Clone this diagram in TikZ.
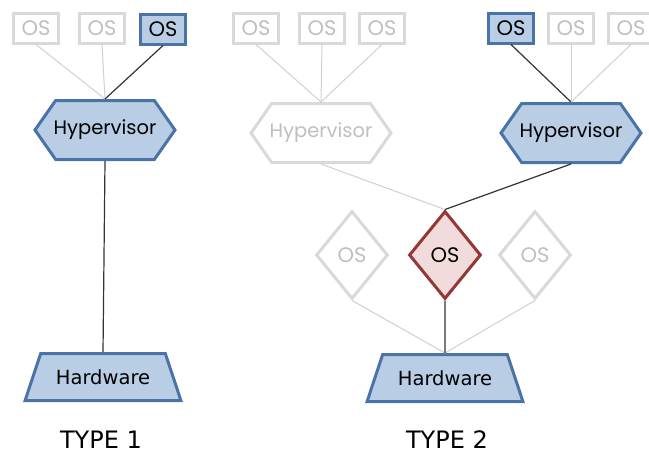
\documentclass[tikz,border=0pt]{standalone}
\usepackage{fontspec}
\setmainfont{DejaVu Sans}
\newfontfamily\geo{Poppins}
\usetikzlibrary{shapes.geometric,shapes.symbols}
\definecolor{bluefill}{HTML}{B9CDE5}
\definecolor{blueline}{HTML}{4A74A8}
\definecolor{redfill}{HTML}{F2DCDB}
\definecolor{redline}{HTML}{953735}
\definecolor{ghost}{HTML}{D9D9D9}
\definecolor{ghosttext}{HTML}{BFBFBF}
\definecolor{ghostlink}{HTML}{D0D0D0}

\tikzset{
  osbox/.style={rectangle, draw, line width=3pt, minimum width=45pt, minimum height=30pt,
    inner sep=0pt, font=\geo\fontsize{21}{21}\selectfont},
  live/.style={draw=blueline, fill=bluefill, text=black},
  dim/.style={draw=ghost, fill=white, text=ghosttext},
  hyper/.style={signal, signal to=west and east, signal pointer angle=110,
    minimum width=140pt, minimum height=59pt, inner ysep=0pt, inner xsep=-12pt,
    line width=3pt, font=\geo\fontsize{19.5}{19.5}\selectfont},
  hard/.style={trapezium, trapezium angle=52, trapezium stretches=true,
    minimum width=156pt, minimum height=47pt, inner sep=0pt, line width=3pt,
    draw=blueline, fill=bluefill, font=\fontsize{19.5}{19.5}\selectfont},
  osdia/.style={diamond, minimum width=72pt, minimum height=88pt, inner sep=0pt,
    line width=3pt, font=\geo\fontsize{21}{21}\selectfont},
  hot/.style={draw=redline, fill=redfill, text=black},
  link/.style={line width=1pt, draw=ghostlink},
  hotlink/.style={line width=1.2pt, draw=black!80},
  caption/.style={font=\fontsize{24}{24}\selectfont}
}

\begin{document}
\begin{tikzpicture}[x=1pt, y=-1pt]
  \useasboundingbox (0,0) rectangle (649,455);

  % Type 1: guests run on a hypervisor that sits on the hardware
  \node[osbox, dim]  (a1) at (36,28)  {OS};
  \node[osbox, dim]  (a2) at (102,28) {OS};
  \node[osbox, live] (a3) at (163,29) {OS};
  \node[hyper, live] (ha) at (105,130) {Hypervisor};
  \node[hard]        (wa) at (103,377) {Hardware};
  \node[caption]     (ta) at (101,440) {TYPE 1};

  \draw[link] (a1.south) -- (ha.north);
  \draw[link] (a2.south) -- (ha.north);
  \draw[hotlink] (a3.south) -- (ha.north);
  \draw[hotlink] (ha.south) -- (wa.north);

  % Type 2: hypervisors run inside a host OS
  \node[osbox, dim]  (b1) at (256,28) {OS};
  \node[osbox, dim]  (b2) at (322,28) {OS};
  \node[osbox, dim]  (b3) at (382,28) {OS};
  \node[hyper, dim]  (hb) at (321,133) {Hypervisor};

  \node[osbox, live] (c1) at (511,28) {OS};
  \node[osbox, dim]  (c2) at (571,28) {OS};
  \node[osbox, dim]  (c3) at (631,28) {OS};
  \node[hyper, live] (hc) at (571,133) {Hypervisor};

  \node[osdia, dim]  (dl) at (352,255) {OS};
  \node[osdia, hot]  (dm) at (445,255) {OS};
  \node[osdia, dim]  (dr) at (535,255) {OS};
  \node[hard]        (wb) at (445,378) {Hardware};
  \node[caption]     (tb) at (447,440) {TYPE 2};

  \draw[link] (b1.south) -- (hb.north);
  \draw[link] (b2.south) -- (hb.north);
  \draw[link] (b3.south) -- (hb.north);
  \draw[hotlink] (c1.south) -- (hc.north);
  \draw[link] (c2.south) -- (hc.north);
  \draw[link] (c3.south) -- (hc.north);
  \draw[link] (hb.south) -- (dm.north);
  \draw[hotlink] (hc.south) -- (dm.north);
  \draw[link] (dl.south) -- (wb.north);
  \draw[link] (dr.south) -- (wb.north);
  \draw[hotlink] (dm.south) -- (wb.north);
\end{tikzpicture}
\end{document}
